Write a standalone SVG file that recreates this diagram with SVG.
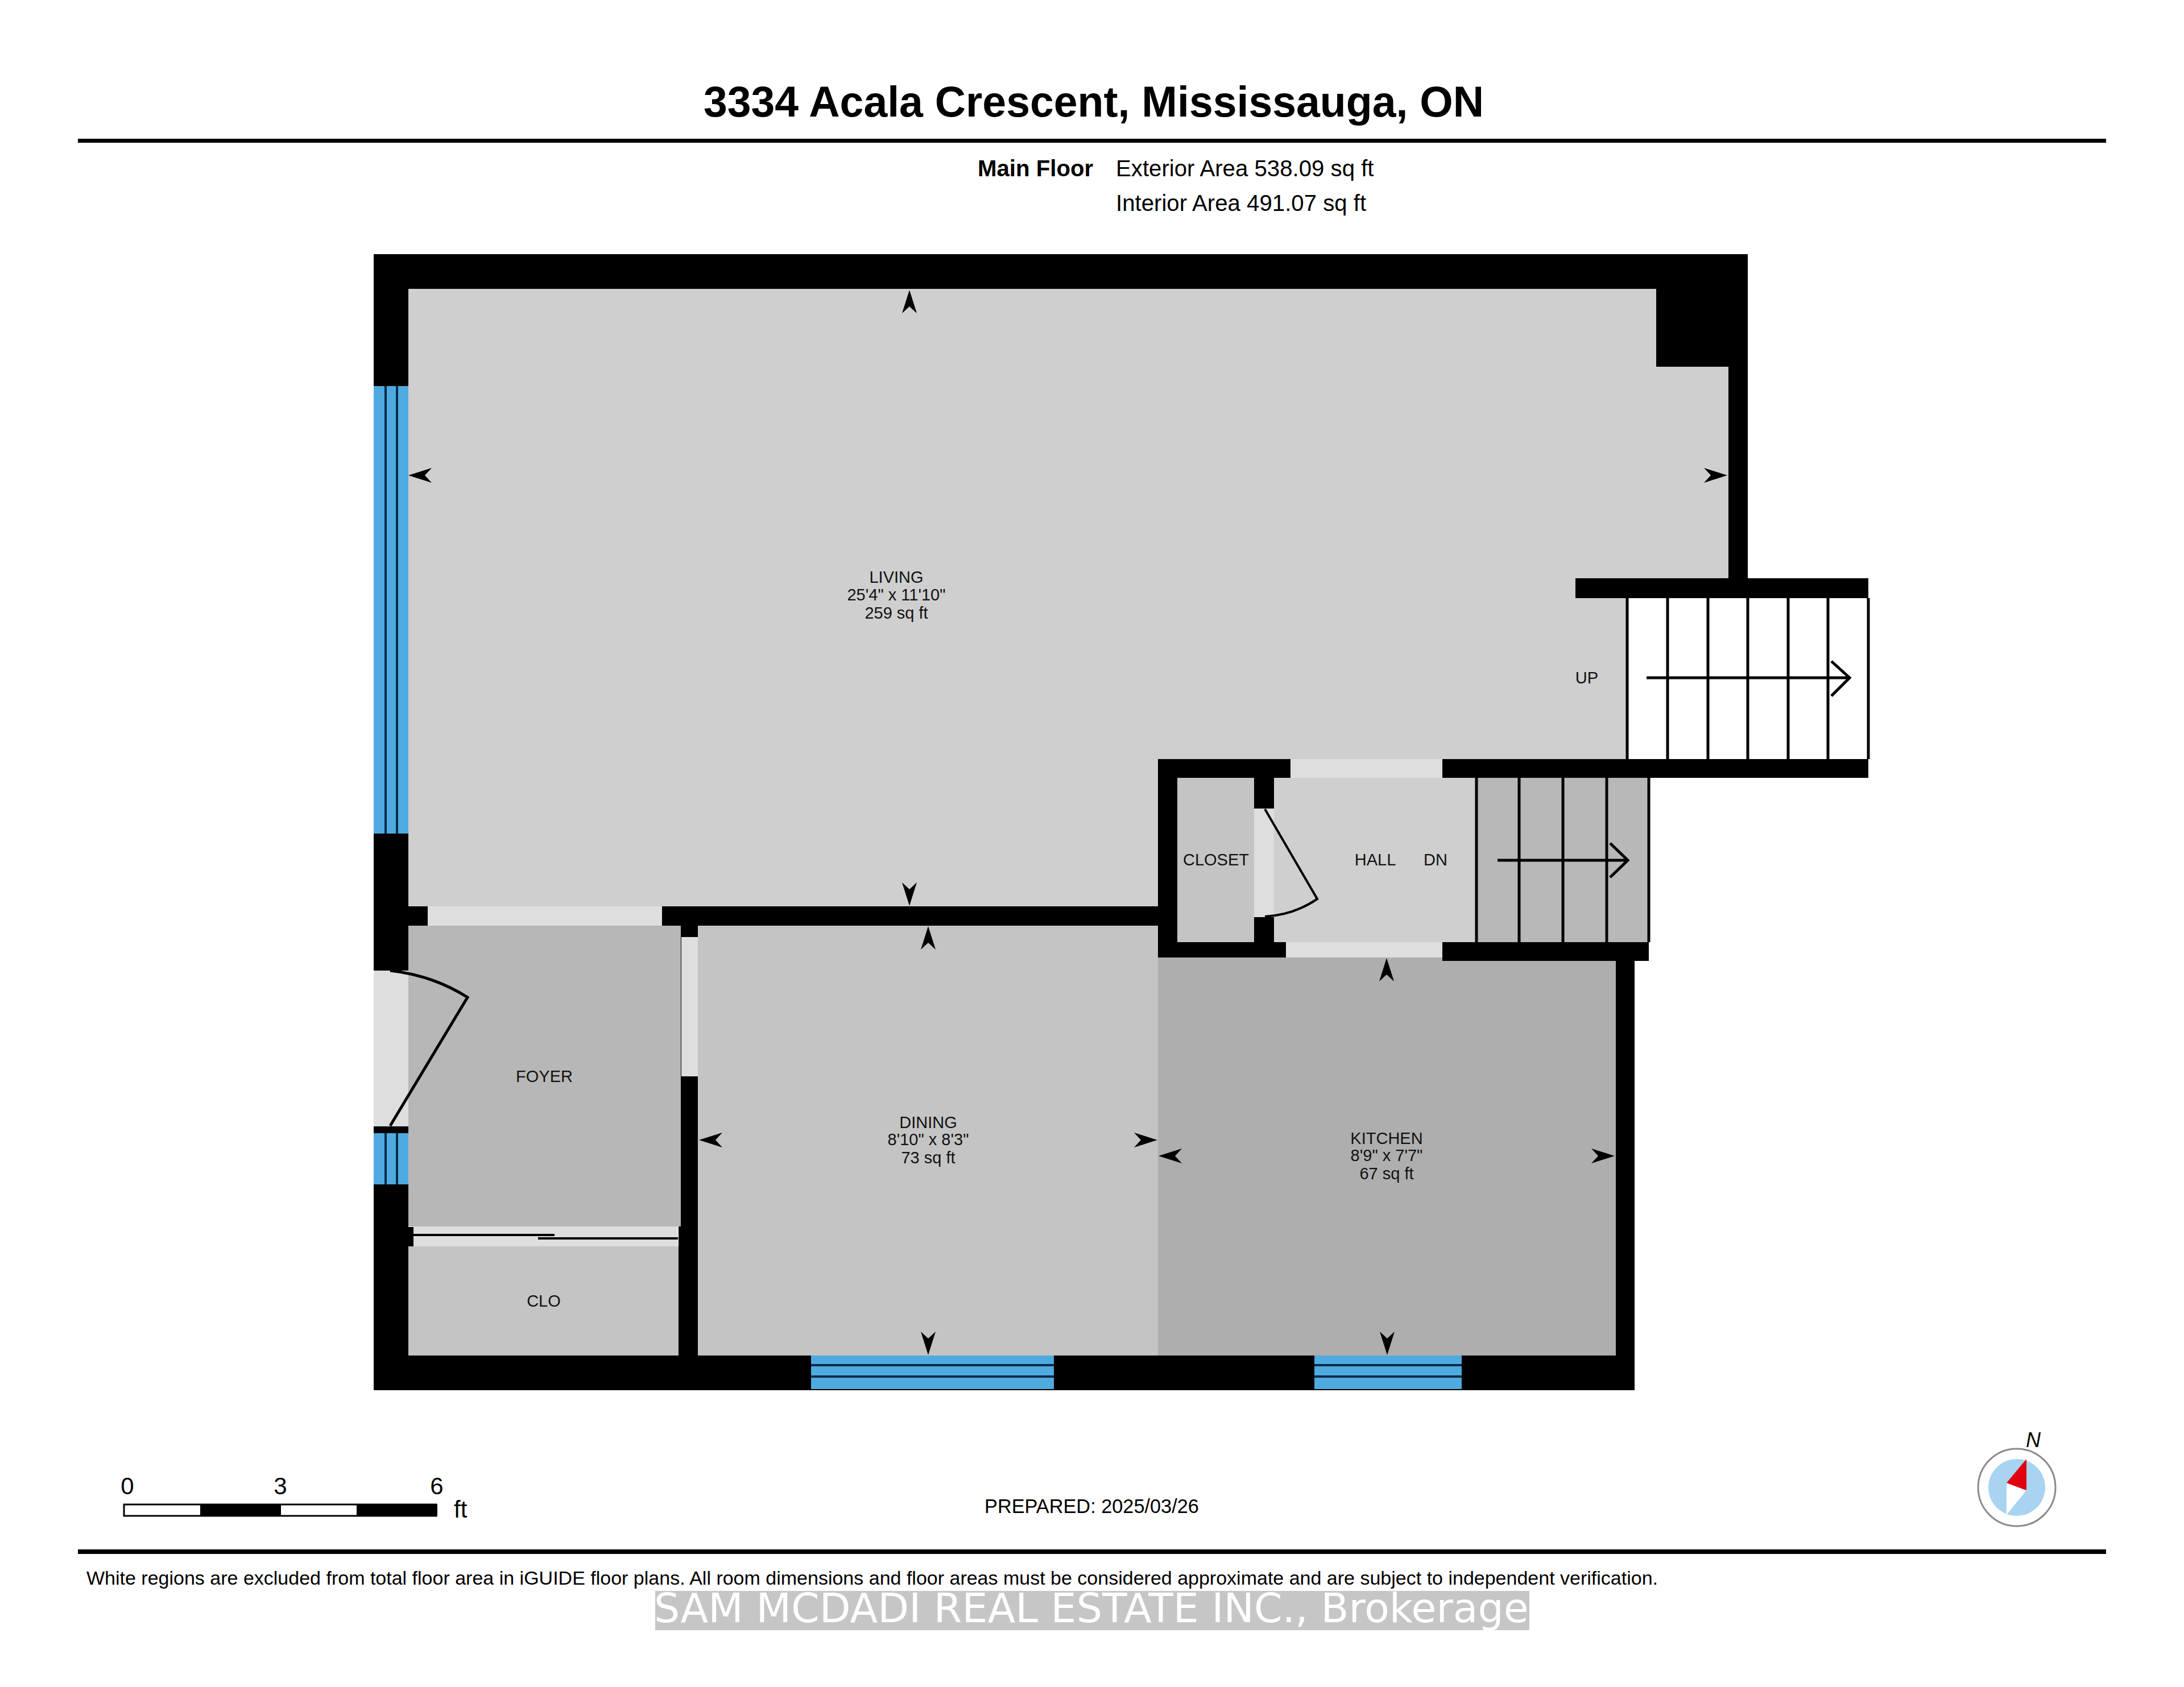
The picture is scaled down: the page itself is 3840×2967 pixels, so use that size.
<svg xmlns="http://www.w3.org/2000/svg" xmlns:xlink="http://www.w3.org/1999/xlink" width="3840" height="2967" viewBox="0 0 3840 2967">
<style>
text{font-family:"Liberation Sans",Arial,sans-serif;fill:#000}
.lbl{font-size:29px;text-anchor:middle;fill:#111}
.wall{fill:#000}
.door{fill:#dedede}
.glass{fill:#4faae0}
.mul{fill:#0a2a4a}
.ln{stroke:#000;fill:none;stroke-width:5}
.tread{stroke:#000;fill:none;stroke-width:5}
.info{font-size:40.2px}
</style>
<defs>
<path id="tick" d="M0 0L-41 -13L-29 0L-41 13Z" fill="#000"/>
</defs>
<rect width="3840" height="2967" fill="#fff"/>
<g id="header">
<text x="1923" y="205" font-size="75.2" font-weight="700" text-anchor="middle">3334 Acala Crescent, Mississauga, ON</text>
<rect x="137" y="244" width="3566" height="7"/>
<text class="info" x="1719" y="310" font-weight="700">Main Floor</text>
<text class="info" x="1962" y="310">Exterior Area 538.09 sq ft</text>
<text class="info" x="1962" y="371">Interior Area 491.07 sq ft</text>
</g>
<g id="living"><path d="M718 508H2912V645H3039V1017H2770V1052H2861V1335H2036V1594H718Z" fill="#cfcfcf"/>
<text class="lbl" x="1576" y="1025">LIVING</text><text class="lbl" x="1576" y="1056">25'4" x 11'10"</text><text class="lbl" x="1576" y="1088">259 sq ft</text></g>
<g id="dining"><rect x="1227" y="1628" width="810" height="756" fill="#c4c4c4"/>
<text class="lbl" x="1632" y="1984">DINING</text><text class="lbl" x="1632" y="2014">8'10" x 8'3"</text><text class="lbl" x="1632" y="2046">73 sq ft</text></g>
<g id="kitchen"><rect x="2036" y="1684" width="805" height="700" fill="#aeaeae"/>
<text class="lbl" x="2438" y="2012">KITCHEN</text><text class="lbl" x="2438" y="2042">8'9" x 7'7"</text><text class="lbl" x="2438" y="2074">67 sq ft</text></g>
<g id="foyer"><rect x="718" y="1628" width="479" height="529" fill="#b7b7b7"/>
<text class="lbl" x="957" y="1903">FOYER</text></g>
<g id="clo"><rect x="718" y="2192" width="475" height="192" fill="#c4c4c4"/>
<text class="lbl" x="956" y="2298">CLO</text></g>
<g id="closet"><rect x="2070" y="1368" width="135" height="289" fill="#c4c4c4"/>
<text class="lbl" x="2138" y="1522">CLOSET</text></g>
<g id="hall"><rect x="2240" y="1368" width="356" height="289" fill="#cfcfcf"/>
<text class="lbl" x="2418" y="1522">HALL</text><text class="lbl" x="2524" y="1522">DN</text></g>
<g id="walls">
<rect class="wall" x="657" y="447" width="2416" height="61"/>
<rect class="wall" x="2912" y="508" width="161" height="137"/>
<rect class="wall" x="3039" y="645" width="34" height="372"/>
<rect class="wall" x="2770" y="1017" width="515" height="35"/>
<rect class="wall" x="657" y="447" width="61" height="1998"/>
<rect class="wall" x="657" y="2384" width="2217" height="61"/>
<rect class="wall" x="2841" y="1684" width="33" height="701"/>
<rect class="wall" x="718" y="1594" width="1318" height="34"/>
<rect class="wall" x="1197" y="1628" width="30" height="760"/>
<rect class="wall" x="1193" y="2157" width="4" height="227"/>
<rect class="wall" x="2036" y="1335" width="1249" height="33"/>
<rect class="wall" x="2036" y="1335" width="34" height="349"/>
<rect class="wall" x="2205" y="1368" width="35" height="289"/>
<rect class="wall" x="2036" y="1657" width="863" height="27"/>
<rect class="wall" x="2536" y="1684" width="363" height="6"/>
</g>
<g id="openings">
<rect class="door" x="752" y="1594" width="412" height="34"/>
<rect class="door" x="1198" y="1648" width="29" height="245"/>
<rect class="door" x="657" y="1707" width="61" height="274"/>
<rect class="door" x="727" y="2157" width="465" height="35"/>
<rect class="door" x="2269" y="1335" width="267" height="33"/>
<rect class="door" x="2261" y="1657" width="275" height="27"/>
<rect class="door" x="2205" y="1422" width="35" height="191"/>
<rect class="wall" x="657" y="1981" width="61" height="12"/>
</g>
<g id="windows">
<rect class="glass" x="657" y="679" width="61" height="787"/><rect class="mul" x="676" y="679" width="4" height="787"/><rect class="mul" x="696" y="679" width="4" height="787"/>
<rect class="glass" x="657" y="1993" width="61" height="90"/><rect class="mul" x="676" y="1993" width="4" height="90"/><rect class="mul" x="696" y="1993" width="4" height="90"/>
<rect class="glass" x="1426" y="2384" width="427" height="59"/><rect class="mul" x="1426" y="2399" width="427" height="4"/><rect class="mul" x="1426" y="2419" width="427" height="4"/>
<rect class="glass" x="2311" y="2384" width="259" height="59"/><rect class="mul" x="2311" y="2399" width="259" height="4"/><rect class="mul" x="2311" y="2419" width="259" height="4"/>
</g>
<g id="stairs-up">
<rect x="2861" y="1052" width="424" height="283" fill="#fff"/>
<path class="tread" d="M2861 1052V1335M2932 1052V1335M3003 1052V1335M3073 1052V1335M3144 1052V1335M3214 1052V1335M3285 1052V1335"/>
<path class="tread" d="M2895 1192H3252M3220 1163L3252 1192L3220 1224"/>
<text class="lbl" x="2790" y="1202">UP</text>
</g>
<g id="stairs-down">
<rect x="2596" y="1368" width="303" height="289" fill="#b8b8b8"/>
<path class="tread" d="M2596 1368V1657M2671 1368V1657M2748 1368V1657M2825 1368V1657M2899 1368V1657"/>
<path class="tread" d="M2633 1513H2862M2831 1483L2862 1513L2831 1543"/>
</g>
<g id="connectors">
<path class="ln" d="M686 1980L822 1754Q760 1715 686 1707"/>
<path class="ln" style="stroke-width:4" d="M2224 1423L2316 1581Q2275 1609 2224 1612"/>
<rect class="wall" x="718" y="2158" width="9" height="34"/>
<rect class="wall" x="727" y="2170" width="248" height="4"/>
<rect class="wall" x="946" y="2176" width="246" height="4"/>
<use xlink:href="#tick" href="#tick" transform="translate(1599 510) rotate(-90)"/>
<use xlink:href="#tick" href="#tick" transform="translate(1599 1593) rotate(90)"/>
<use xlink:href="#tick" href="#tick" transform="translate(718 836) rotate(180)"/>
<use xlink:href="#tick" href="#tick" transform="translate(3037 836)"/>
<use xlink:href="#tick" href="#tick" transform="translate(1632 1629) rotate(-90)"/>
<use xlink:href="#tick" href="#tick" transform="translate(1632 2383) rotate(90)"/>
<use xlink:href="#tick" href="#tick" transform="translate(1229 2005) rotate(180)"/>
<use xlink:href="#tick" href="#tick" transform="translate(2035 2005)"/>
<use xlink:href="#tick" href="#tick" transform="translate(2438 1685) rotate(-90)"/>
<use xlink:href="#tick" href="#tick" transform="translate(2439 2383) rotate(90)"/>
<use xlink:href="#tick" href="#tick" transform="translate(2037 2033) rotate(180)"/>
<use xlink:href="#tick" href="#tick" transform="translate(2839 2033)"/>
</g>
<g id="scale">
<rect x="218" y="2646" width="549" height="20" fill="#fff" stroke="#000" stroke-width="3"/>
<rect x="352" y="2646" width="142" height="20"/><rect x="627" y="2646" width="142" height="20"/>
<text x="224" y="2628" font-size="42" text-anchor="middle">0</text>
<text x="493" y="2628" font-size="42" text-anchor="middle">3</text>
<text x="768" y="2628" font-size="42" text-anchor="middle">6</text>
<text x="798" y="2669" font-size="42">ft</text>
</g>
<g id="compass">
<circle cx="3546" cy="2616" r="68" fill="#fff" stroke="#8a8a8a" stroke-width="3"/>
<circle cx="3546" cy="2616" r="50" fill="#a8d4f2"/>
<path d="M3528 2608L3563 2621L3528 2664Z" fill="#fff"/>
<path d="M3563 2566L3528 2608L3563 2621Z" fill="#e00010"/>
<text x="3575" y="2545" font-size="36" font-style="italic" text-anchor="middle">N</text>
</g>
<text x="1731" y="2661" font-size="34.3">PREPARED: 2025/03/26</text>
<g id="footer">
<rect x="137" y="2725" width="3566" height="8"/>
<text x="152" y="2787" font-size="34">White regions are excluded from total floor area in iGUIDE floor plans. All room dimensions and floor areas must be considered approximate and are subject to independent verification.</text>
<rect x="1152" y="2798" width="1537" height="69" fill="#c6c6c6"/>
<text x="1150" y="2853" font-size="71.3" style="font-family:'DejaVu Sans',sans-serif;fill:#fff">SAM MCDADI REAL ESTATE INC., Brokerage</text>
</g>
</svg>
